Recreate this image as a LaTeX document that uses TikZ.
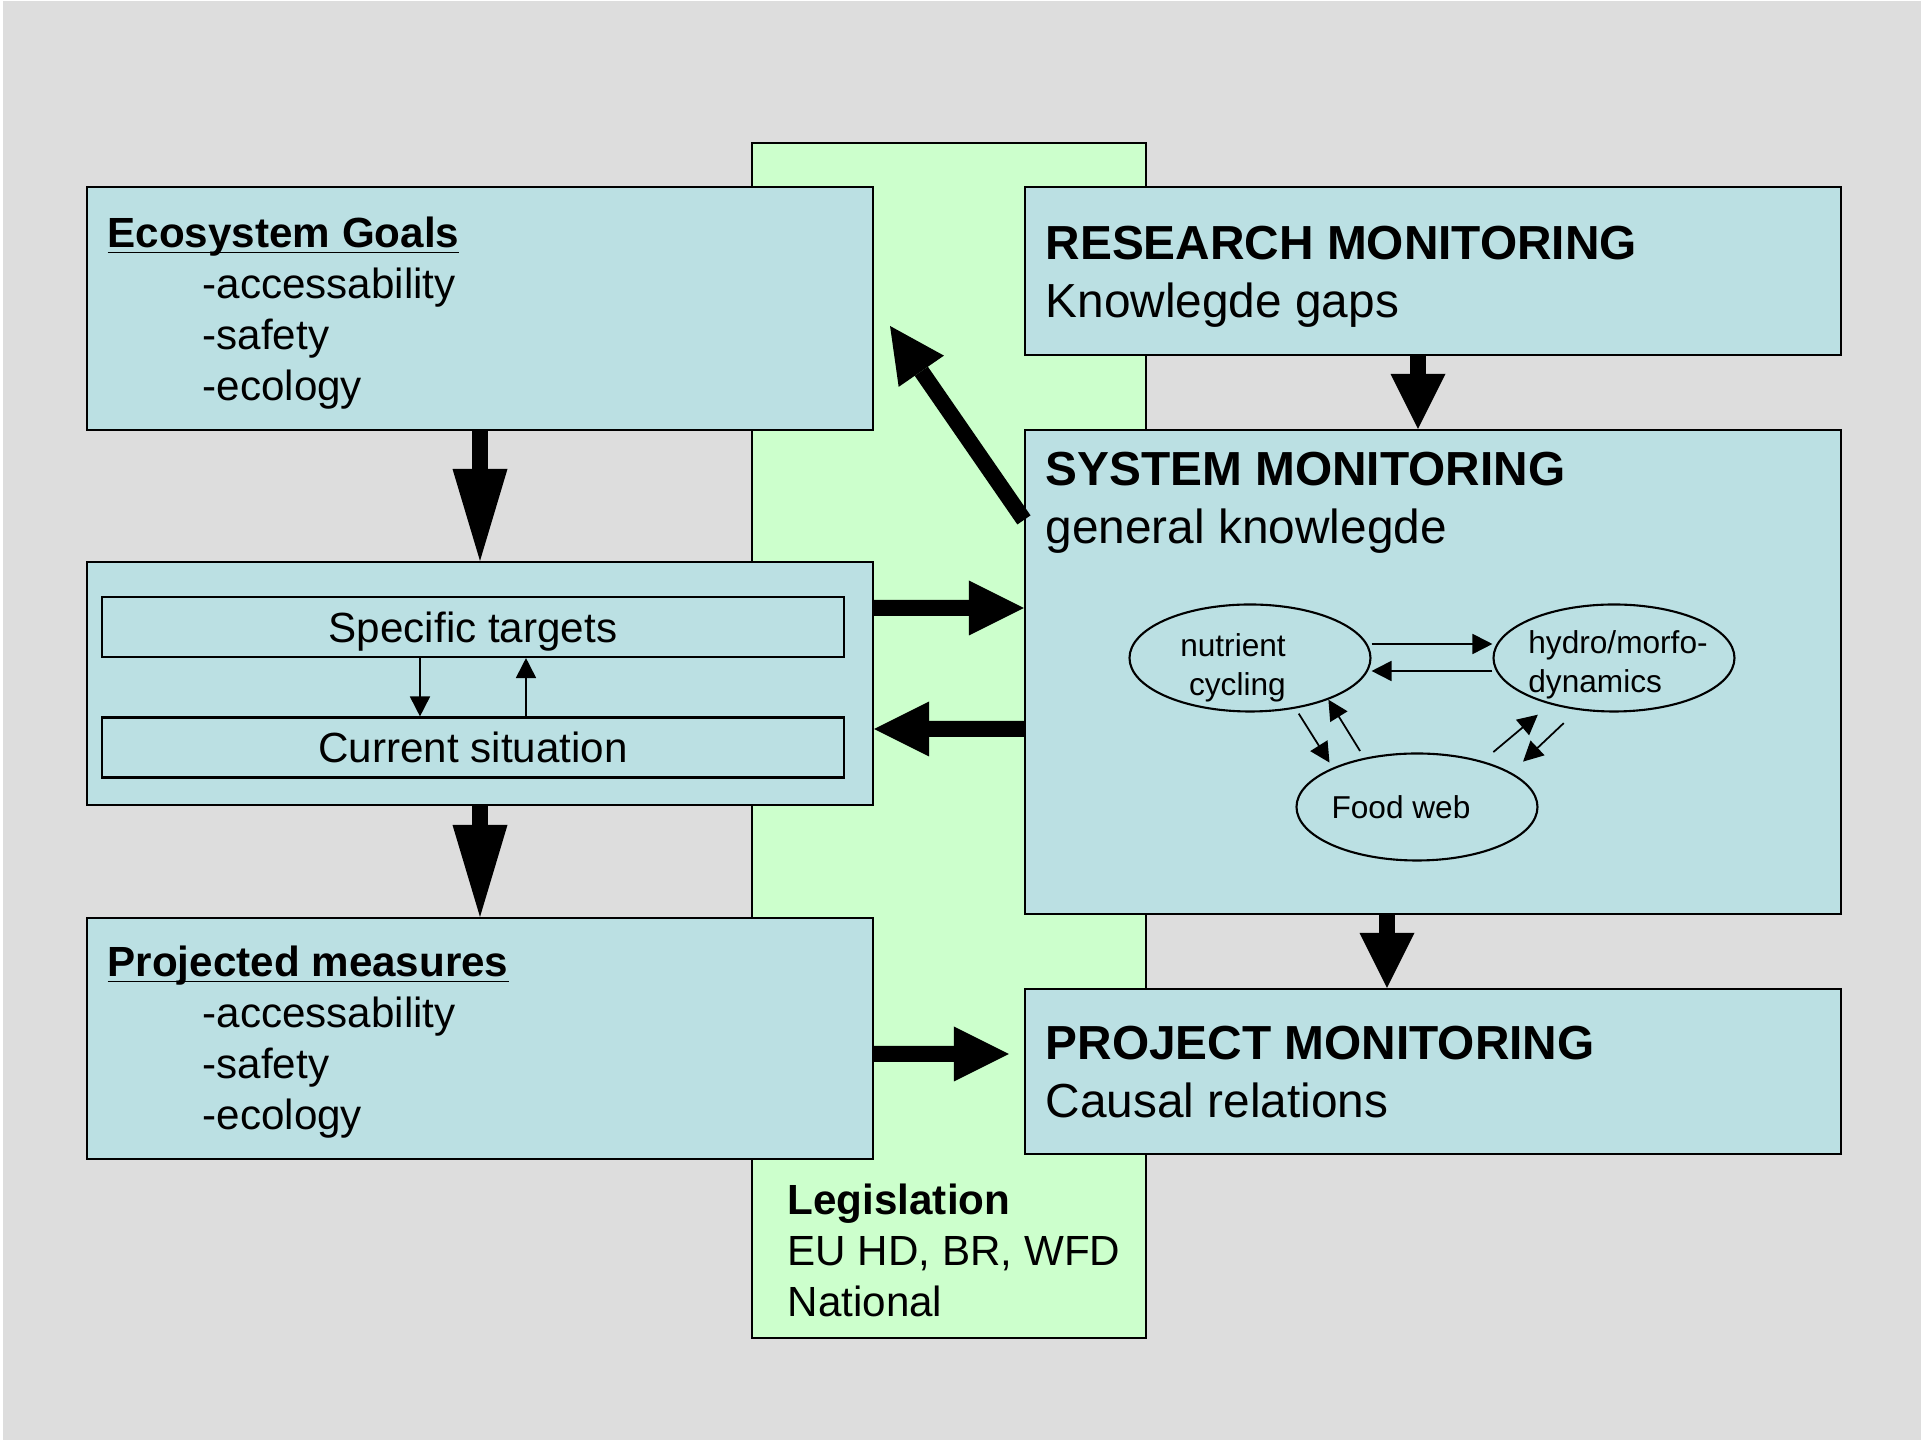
\documentclass[tikz,border=0pt]{standalone}
\usepackage{fontspec}
\setmainfont{Liberation Sans}
\usetikzlibrary{shapes.geometric, arrows.meta}

\definecolor{boxblue}{HTML}{BBE0E3}
\definecolor{lawgreen}{HTML}{CCFFCC}
\definecolor{bggray}{HTML}{DDDDDD}

\begin{document}
\begin{tikzpicture}[
        box/.style={draw, line width=0.6pt, fill=boxblue, minimum width=7.86cm},
        mon/.style={draw, line width=0.6pt, fill=boxblue, minimum width=8.16cm},
        sub/.style={draw, line width=0.6pt, minimum width=7.42cm, minimum height=0.6cm, text height=8.6pt, text depth=0pt, font=\fontsize{12}{14.5}\selectfont},
        blob/.style={ellipse, draw, line width=0.6pt, minimum width=2.41cm, minimum height=1.07cm, inner sep=0pt},
        small/.style={inner sep=0pt, font=\fontsize{9}{11.1}\selectfont},
        txt/.style={anchor=north west, inner sep=0pt, align=left, font=\fontsize{12}{14.5}\selectfont},
        head/.style={anchor=north west, inner sep=0pt, align=left, font=\fontsize{13.6}{16.7}\selectfont},
        fat/.style={line width=1.6mm, -{Triangle[width=5.5mm, length=5.5mm, line width=0pt]}},
        fatlong/.style={line width=1.6mm, -{Triangle[width=5.5mm, length=9.2mm, line width=0pt]}},
        lnk/.style={line width=0.5pt, -{Triangle[width=2mm, length=2mm]}}
    ]
    \useasboundingbox (0,0) rectangle (19.21,14.40);

    % Background
    \fill[white] (0,0) rectangle (19.21,14.40);
    \fill[bggray] (0.03,0) rectangle (19.21,14.39);

    % Legislation column behind everything
    \node[draw, line width=0.6pt, fill=lawgreen, minimum width=3.94cm, minimum height=11.95cm] (legis) at (9.49,6.995) {};
    \node[txt] (legistxt) at ([shift={(0.36,1.56)}]legis.south west)
        {\textbf{Legislation}\\EU HD, BR, WFD\\National};

    % Left column
    \node[box, minimum height=2.43cm] (goals) at (4.80,11.315) {};
    \node[txt] (goalstxt) at ([shift={(0.21,-0.61)}]goals.north west)
        {\textbf{\underline{\smash{Ecosystem Goals}}}\\
         \hspace*{0.95cm}-accessability\\
         \hspace*{0.95cm}-safety\\
         \hspace*{0.95cm}-ecology};

    \node[box, minimum height=2.43cm] (mid) at (4.80,7.565) {};
    \node[sub] (spec) at (4.73,8.13) {Specific targets};
    \node[sub] (curr) at (4.73,6.925) {Current situation};

    \node[box, minimum height=2.41cm] (proj) at (4.80,4.015) {};
    \node[txt] (projtxt) at ([shift={(0.21,-0.59)}]proj.north west)
        {\textbf{\underline{\smash{Projected measures}}}\\
         \hspace*{0.95cm}-accessability\\
         \hspace*{0.95cm}-safety\\
         \hspace*{0.95cm}-ecology};

    % Right column: monitoring types
    \node[mon, minimum height=1.68cm] (res) at (14.33,11.69) {};
    \node[head] (restxt) at ([shift={(0.21,-0.39)}]res.north west)
        {\textbf{RESEARCH MONITORING}\\Knowlegde gaps};

    \node[mon, minimum height=4.84cm] (sys) at (14.33,7.68) {};
    \node[head] (systxt) at ([shift={(0.21,-0.22)}]sys.north west)
        {\textbf{SYSTEM MONITORING}\\general knowlegde};

    \node[mon, minimum height=1.65cm] (prj) at (14.33,3.685) {};
    \node[head] (prjtxt) at ([shift={(0.21,-0.37)}]prj.north west)
        {\textbf{PROJECT MONITORING}\\Causal relations};

    % System compartments
    \node[blob] (nut) at (12.50,7.82) {};
    \node[blob] (hyd) at (16.14,7.82) {};
    \node[blob] (food) at (14.17,6.33) {};
    \node[small, align=right] (nuttxt) at ([shift={(-0.17,-0.1)}]nut.center) {nutrient\\cycling};
    \node[small, align=left] (hydtxt) at ([shift={(0.04,-0.07)}]hyd.center) {hydro/morfo-\\dynamics};
    \node[small] (foodtxt) at ([xshift=-0.16cm]food.center) {Food web};

    \draw[lnk] ([yshift=1.4mm]nut.east) -- ([yshift=1.4mm]hyd.west);
    \draw[lnk] ([yshift=-1.3mm]hyd.west) -- ([yshift=-1.3mm]nut.east);
    \draw[lnk, shorten <=0.6mm, shorten >=0.6mm] (nut.-48) -- (food.155);
    \draw[lnk, shorten <=0.8mm] (food.137) -- (nut.-28);
    \draw[lnk, shorten <=1.4mm, shorten >=1.6mm] (food.35) -- (hyd.216);
    \draw[lnk, shorten <=1.9mm, shorten >=1.6mm] (hyd.235) -- (food.20);

    % Targets <-> situation
    \draw[lnk] ([xshift=-5.3mm]spec.south) -- ([xshift=-5.3mm]curr.north);
    \draw[lnk] ([xshift=5.3mm]curr.north) -- ([xshift=5.3mm]spec.south);

    % Main flow
    \draw[fatlong] (goals.south) -- (mid.north);
    \draw[fatlong] (mid.south) -- (proj.north);
    \draw[fat] ([xshift=-1.5mm]res.south) -- ([xshift=-1.5mm]sys.north);
    \draw[fat] ([xshift=-4.6mm]sys.south) -- ([xshift=-4.6mm]prj.north);
    \draw[fat] ([yshift=7.55mm]mid.east) -- ([yshift=6.4mm]sys.west);
    \draw[fat] ([yshift=-5.7mm]sys.west) -- ([yshift=-4.55mm]mid.east);
    \draw[fat, shorten >=1.5mm] ([yshift=-1.55mm]proj.east) -- ([yshift=1.75mm]prj.west);
    \draw[fat] ([yshift=-9.1mm]sys.north west) -- ([shift={(1.6mm,-1.75mm)}]goals.east);

\end{tikzpicture}
\end{document}
